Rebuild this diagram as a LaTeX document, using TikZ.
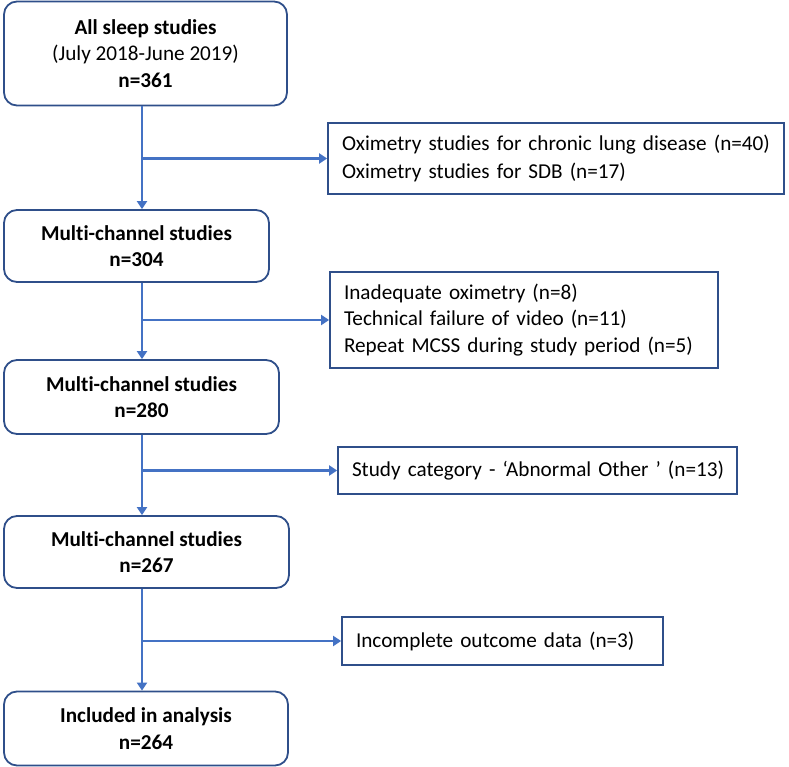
\documentclass[tikz,border=0pt]{standalone}
\usepackage{fontspec}
\setmainfont{Carlito}[Ligatures=NoCommon]
\usetikzlibrary{arrows.meta}
\definecolor{arrowblue}{HTML}{4472C4}
\definecolor{boxnavy}{HTML}{2F4F8A}

\begin{document}
\begin{tikzpicture}[x=1pt,y=-1pt,
    every node/.style={font=\fontsize{21.2}{26.5}\selectfont},
    mainbox/.style={draw=boxnavy,line width=1.8pt,rounded corners=13pt,align=center,inner sep=0pt},
    exbox/.style={draw=boxnavy,line width=1.8pt,align=left,inner ysep=0pt,inner xsep=14pt},
    arr/.style={arrowblue,line width=2.6pt,-{Triangle[length=8pt,width=10pt]}}]
            \useasboundingbox (0,0) rectangle (789,767);
            \coordinate (spine) at (142,0);
            % main flow
            \node[mainbox,minimum width=283pt,minimum height=104pt] (all) at (145.5,53.5)
                {\textbf{All sleep studies}\\(July 2018-June 2019)\\\textbf{n=361}};
            \node[mainbox,minimum width=265pt,minimum height=72pt] (mc1) at (136.5,246)
                {\textbf{Multi-channel studies}\\\textbf{n=304}};
            \node[mainbox,minimum width=275pt,minimum height=74pt] (mc2) at (141.5,397)
                {\textbf{Multi-channel studies}\\\textbf{n=280}};
            \node[mainbox,minimum width=285pt,minimum height=72pt] (mc3) at (146.5,552)
                {\textbf{Multi-channel studies}\\\textbf{n=267}};
            \node[mainbox,minimum width=284pt,minimum height=74pt] (incl) at (146,728.5)
                {\textbf{Included in analysis}\\\textbf{n=264}};
            % exclusions
            \node[exbox,text width=428pt,minimum height=71pt,
                  font=\fontsize{21.2}{28}\selectfont] (ex1) at (556,158.5)
                {Oximetry studies for chronic lung disease (n=40)\\Oximetry studies for SDB (n=17)};
            \node[exbox,text width=360pt,minimum height=96pt] (ex2) at (524,320)
                {Inadequate oximetry (n=8)\\Technical failure of video (n=11)\\Repeat MCSS during study period (n=5)};
            \node[exbox,text width=371pt,minimum height=47pt] (ex3) at (537.5,470.5)
                {\mbox{Study category - `Abnormal Other ' (n=13)}};
            \node[exbox,text width=293pt,minimum height=48pt] (ex4) at (502.5,641)
                {Incomplete outcome data (n=3)};
            \draw[arr] (all.south -| spine) -- (mc1.north -| spine);
            \draw[arr] (mc1.south -| spine) -- (mc2.north -| spine);
            \draw[arr] (mc2.south -| spine) -- (mc3.north -| spine);
            \draw[arr] (mc3.south -| spine) -- (incl.north -| spine);
            \draw[arr] (spine |- ex1.west) -- (ex1.west);
            \draw[arr] (spine |- ex2.west) -- (ex2.west);
            \draw[arr] (spine |- ex3.west) -- (ex3.west);
            \draw[arr] (spine |- ex4.west) -- (ex4.west);
        \end{tikzpicture}
\end{document}
